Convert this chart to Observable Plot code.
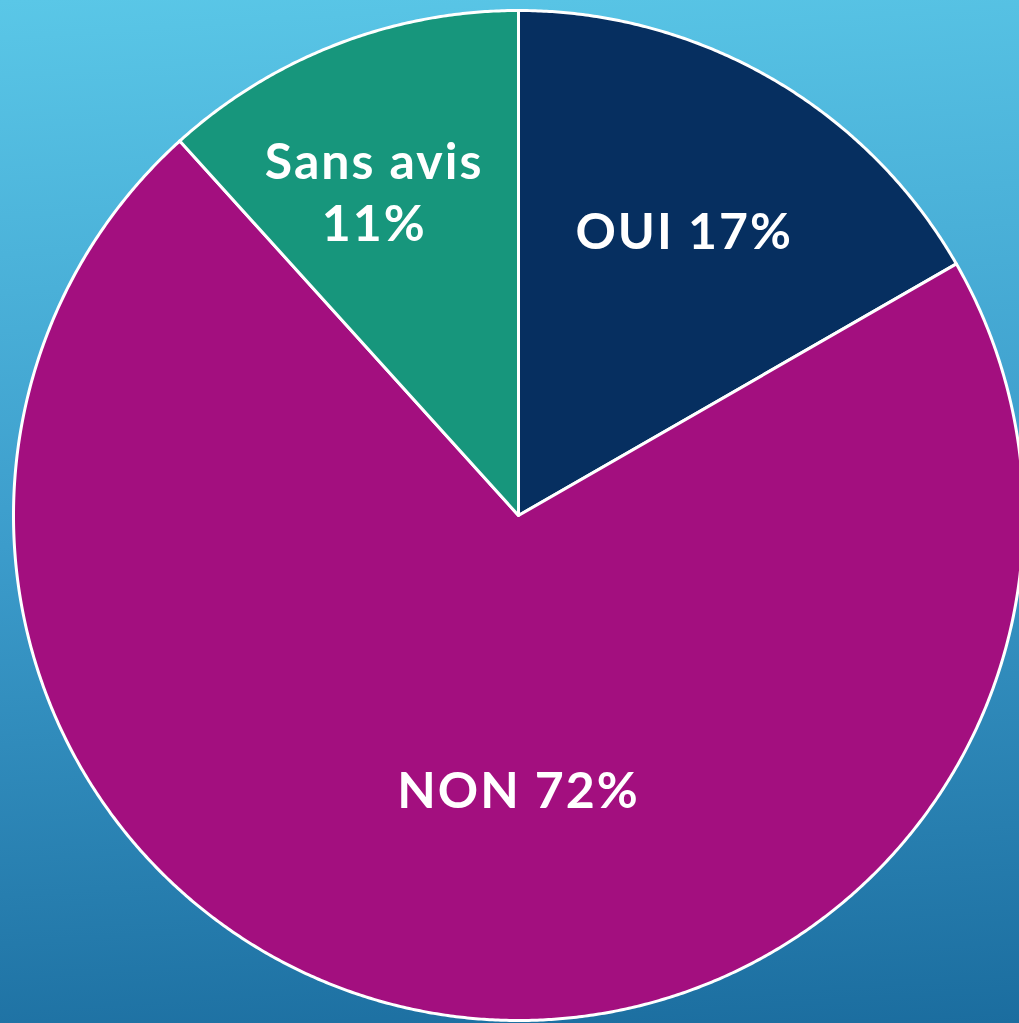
<!DOCTYPE html>
<html><head><meta charset="utf-8">
<script src="https://cdn.jsdelivr.net/npm/d3@7"></script>
<script src="https://cdn.jsdelivr.net/npm/@observablehq/plot@0.6"></script>
<style>
html,body{margin:0;padding:0;}
body{width:1019px;height:1023px;overflow:hidden;background:linear-gradient(176deg,#5ac7e7 0%,#3c9ccb 50%,#1b6d9f 100%);}
#chart svg{display:block;}
#chart text{letter-spacing:2px;}
</style></head><body><div id="chart"></div>
<script>
const categories = ["OUI", "NON", "Sans avis"];
const values = [16.7, 71.6, 11.7];
const labels = ["OUI 17%", "NON 72%", "Sans avis\n11%"];
const colors = ["#062f60", "#a30f7f", "#17967c"];

const W = 1019, H = 1023, cx = 518, cy = 515, R = 505;

const arcs = d3.pie().sort(null).value(d => d)(values);
const slices = [];
arcs.forEach((p, i) => {
  slices.push({cat: categories[i], x: 0, y: 0});
  const n = Math.max(2, Math.ceil((p.endAngle - p.startAngle) * 180));
  for (let k = 0; k <= n; k++) {
    const a = p.startAngle + (p.endAngle - p.startAngle) * k / n;
    slices.push({cat: categories[i], x: Math.sin(a), y: Math.cos(a)});
  }
  slices.push({cat: categories[i], x: 0, y: 0});
});

const maxV = d3.max(values);
const labelData = arcs.map((p, i) => {
  let a = (p.startAngle + p.endAngle) / 2, r = 0.655;
  if (values[i] === maxV) { a = Math.PI; r = 0.54; }
  if (i === 2) { a -= 0.05; r = 0.705; }
  return {label: labels[i], x: Math.sin(a) * r, y: Math.cos(a) * r};
});

const chart = Plot.plot({
  width: W, height: H,
  margin: 0,
  x: {domain: [-cx / R, (W - cx) / R], axis: null},
  y: {domain: [-(H - cy) / R, cy / R], axis: null},
  color: {domain: categories, range: colors},
  style: {background: "transparent"},
  marks: [
    Plot.line(slices, {x: "x", y: "y", z: "cat", fill: "cat", stroke: "white", strokeWidth: 3, strokeLinejoin: "round", curve: "linear"}),
    Plot.text(labelData, {x: "x", y: "y", text: "label", fill: "white", fontSize: 50, fontWeight: "bold", fontFamily: "Lato, 'Open Sans', sans-serif", lineHeight: 1.25, textAnchor: "middle"})
  ]
});
document.getElementById("chart").append(chart);
</script>
</body></html>
